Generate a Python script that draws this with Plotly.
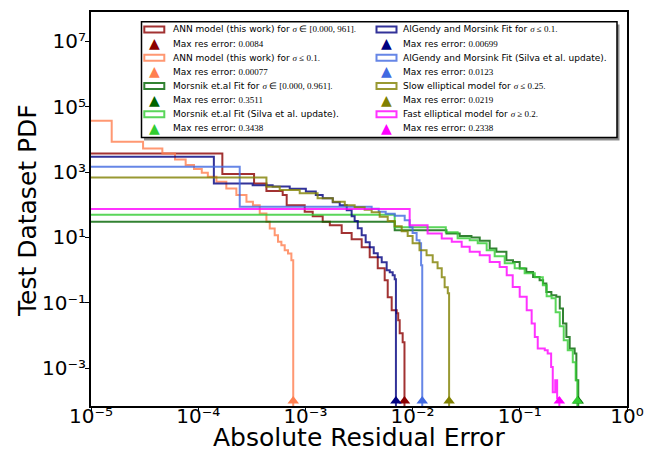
import plotly.graph_objects as go

# ---------------- data: step-histogram PDFs of absolute residual error ----------------
# each series: left bin edges, PDF value of each bin; the last bin closes at the max error
ann_all_edges = [1e-5, 1.68e-4, 3.32e-4, 4.33e-4, 6.14e-4, 6.69e-4, 9.85e-4, 1.17e-3, 1.45e-3,
                 1.69e-3, 2.18e-3, 2.70e-3, 3.35e-3, 3.98e-3, 4.73e-3, 5.49e-3, 5.86e-3,
                 6.38e-3, 7.11e-3, 7.34e-3, 7.58e-3, 8.08e-3]
ann_all_pdf = [3.71e3, 863, 448, 261, 197, 97.3, 60.7, 44.8, 30.0, 23.8, 13.6, 8.87, 5.05,
               2.50, 1.15, 0.494, 0.149, 0.0598, 0.0484, 0.0296, 0.0118, 0.00628]

ann_low_edges = [1e-5, 1.56e-5, 3.06e-5, 4.63e-5, 6.08e-5, 7.64e-5, 9.14e-5, 1.08e-4, 1.23e-4,
                 1.48e-4, 1.83e-4, 2.27e-4, 2.82e-4, 3.24e-4, 3.75e-4, 4.33e-4, 4.65e-4,
                 5.17e-4, 5.55e-4, 5.97e-4, 6.41e-4, 6.88e-4, 7.40e-4]
ann_low_pdf = [3.68e4, 8.39e3, 5.27e3, 3.71e3, 2.43e3, 1.63e3, 1.23e3, 946, 713, 501, 315,
               197, 123, 97.3, 54.2, 30.0, 18.8, 11.7, 7.35, 5.82, 4.09, 3.24, 2.02]

morsnik_edges = [1e-5, 6.81e-3, 2.07e-2, 2.75e-2, 3.54e-2, 4.23e-2, 5.24e-2, 6.05e-2, 7.50e-2,
                 8.64e-2, 9.98e-2, 0.115, 0.133, 0.153, 0.165, 0.177, 0.197, 0.219, 0.236,
                 0.253, 0.272, 0.292, 0.325, 0.337]
morsnik_pdf = [30.0, 16.7, 13.2, 11.0, 10.0, 7.87, 4.61, 3.63, 2.02, 1.79, 1.13, 0.887, 0.624,
               0.494, 0.392, 0.217, 0.172, 0.153, 0.0675, 0.0234, 0.00912, 0.00404, 0.00284,
               4.33e-4]

morsnik_silva_edges = [1e-5, 6.81e-3, 2.04e-2, 2.63e-2, 3.41e-2, 4.05e-2, 4.91e-2, 5.83e-2,
                       7.23e-2, 8.96e-2, 0.111, 0.138, 0.164, 0.178, 0.198, 0.216, 0.236,
                       0.257, 0.280, 0.312, 0.332]
morsnik_silva_pdf = [49.1, 20.7, 14.5, 9.53, 8.28, 6.70, 4.09, 2.68, 1.64, 1.15, 0.809, 0.611,
                     0.348, 0.160, 0.139, 0.052, 0.0194, 0.00723, 0.00358, 0.00154, 4.33e-4]

algendy_edges = [1e-5, 1.40e-4, 3.22e-4, 4.95e-4, 7.14e-4, 1.01e-3, 1.25e-3, 1.45e-3, 1.80e-3,
                 2.09e-3, 2.43e-3, 2.70e-3, 2.88e-3, 3.08e-3, 3.35e-3, 3.65e-3, 3.98e-3,
                 4.34e-3, 4.73e-3, 5.15e-3, 5.73e-3, 6.12e-3, 6.52e-3, 6.81e-3]
algendy_pdf = [2.92e3, 448, 397, 358, 310, 252, 197, 159, 120, 97.3, 68.4, 44.8, 31.6, 19.2,
               11.7, 7.18, 5.05, 3.31, 2.50, 1.76, 1.00, 0.869, 0.703, 0.531]

algendy_silva_edges = [1e-5, 2.44e-4, 4.15e-3, 4.83e-3, 5.61e-3, 6.81e-3, 8.44e-3, 9.39e-3,
                       1.00e-2, 1.09e-2, 1.16e-2, 1.20e-2]
algendy_silva_pdf = [1.44e3, 86.3, 76.0, 61.5, 53.5, 46.5, 33.8, 20.7, 13.6, 8.28, 6.70, 1.42]

slow_edges = [1e-5, 4.33e-4, 5.76e-4, 8.85e-4, 1.30e-3, 1.80e-3, 2.33e-3, 2.88e-3, 3.57e-3,
              4.15e-3, 4.93e-3, 5.86e-3, 6.81e-3, 7.91e-3, 9.00e-3, 1.00e-2, 1.16e-2, 1.35e-2,
              1.54e-2, 1.71e-2, 1.87e-2, 1.99e-2, 2.13e-2]
slow_pdf = [684, 352, 280, 226, 159, 124, 97.3, 84.5, 70.8, 59.4, 43.3, 31.6, 22.2, 15.6, 11.0,
            6.70, 4.09, 2.88, 1.76, 1.15, 0.611, 0.302, 0.198]

fast_edges = [1e-5, 9.39e-3, 1.38e-2, 1.87e-2, 2.32e-2, 2.87e-2, 3.41e-2, 4.23e-2, 5.24e-2,
              6.49e-2, 7.55e-2, 8.59e-2, 9.98e-2, 0.116, 0.129, 0.138, 0.147, 0.171, 0.182,
              0.196, 0.203, 0.214, 0.223]
fast_pdf = [73.5, 23.8, 13.2, 9.33, 7.35, 5.16, 3.63, 2.88, 1.79, 1.26, 0.703, 0.308, 0.153,
            0.0598, 0.0234, 0.00912, 0.00404, 0.00358, 0.00284, 0.0011, 1.86e-4, 4.33e-4,
            1.22e-4]

# maximum absolute residual error of each model (triangles on the x axis)
max_res_error = [0.0084, 0.00077, 0.3511, 0.3438, 0.00699, 0.0123, 0.0219, 0.2338]

series_edges = [ann_all_edges, ann_low_edges, morsnik_edges, morsnik_silva_edges,
                algendy_edges, algendy_silva_edges, slow_edges, fast_edges]
series_pdf = [ann_all_pdf, ann_low_pdf, morsnik_pdf, morsnik_silva_pdf,
              algendy_pdf, algendy_silva_pdf, slow_pdf, fast_pdf]

M = '<span style="font-family:Liberation Serif;font-size:9px">'
series_labels = [
    "ANN model (this work) for " + M + "<i>σ</i> ∈ [0.000, 961].</span>",
    "ANN model (this work) for " + M + "<i>σ</i> ≤ 0.1.</span>",
    "Morsnik et.al Fit for " + M + "<i>σ</i> ∈ [0.000, 0.961].</span>",
    "Morsnik et.al Fit (Silva et al. update).",
    "AlGendy and Morsink Fit for " + M + "<i>σ</i> ≤ 0.1.</span>",
    "AlGendy and Morsink Fit (Silva et al. update).",
    "Slow elliptical model for " + M + "<i>σ</i> ≤ 0.25.</span>",
    "Fast elliptical model for " + M + "<i>σ</i> ≥ 0.2.</span>",
]
colors = ["darkred", "coral", "darkgreen", "limegreen", "navy", "royalblue", "olive", "magenta"]

x_tick_vals = [1e-5, 1e-4, 1e-3, 1e-2, 1e-1, 1e0]
x_tick_text = ["10⁻⁵", "10⁻⁴", "10⁻³", "10⁻²", "10⁻¹", "10⁰"]
y_tick_vals = [1e-3, 1e-1, 1e1, 1e3, 1e5, 1e7]
y_tick_text = ["10⁻³", "10⁻¹", "10¹", "10³", "10⁵", "10⁷"]
x_title = "Absolute Residual Error"
y_title = "Test Dataset PDF"

PDF_FLOOR = 1e-7       # empty bin beyond the last edge (drawn below the axis)
MARKER_LEVEL = 1e-4    # height at which the max-error triangles sit

fig = go.Figure()

for edges, pdf, err, col in zip(series_edges, series_pdf, max_res_error, colors):
    fig.add_trace(go.Scatter(
        x=edges + [err], y=pdf + [PDF_FLOOR], mode="lines", line_shape="hv",
        line=dict(color=col, width=2), opacity=0.8, showlegend=False, hoverinfo="skip"))

for err, col in zip(max_res_error, colors):
    fig.add_trace(go.Scatter(
        x=[err], y=[MARKER_LEVEL], mode="markers", cliponaxis=False,
        marker=dict(symbol="triangle-up", size=10, color=col), showlegend=False))

# ---------------- legend box (two columns, with drop shadow) ----------------
L, R, T, B = 91.0, 627.0, 12.0, 406.0   # plot area in pixels


def px(x):
    return (x - L) / (R - L)


def py(y):
    return (B - y) / (B - T)


shapes = [
    dict(type="rect", xref="paper", yref="paper", x0=px(144), x1=px(619.5), y0=py(140.5), y1=py(24.5),
         fillcolor="rgba(0,0,0,0.45)", line=dict(width=0), layer="above"),
    dict(type="rect", xref="paper", yref="paper", x0=px(141.5), x1=px(617), y0=py(137.5), y1=py(21.7),
         fillcolor="white", line=dict(color="black", width=1.5), layer="above"),
]
annotations = []
row0, row_step = 29.4, 14.15
col_patch = [154.3, 386.5]
col_text = [170.5, 401.0]
for i, (lab, err, col) in enumerate(zip(series_labels, max_res_error, colors)):
    c, r = divmod(i, 4)
    y_patch = row0 + 2 * r * row_step
    y_tri = y_patch + row_step
    shapes.append(dict(type="rect", xref="paper", yref="paper",
                       x0=px(col_patch[c] - 10), x1=px(col_patch[c] + 10),
                       y0=py(y_patch + 3), y1=py(y_patch - 3),
                       fillcolor="white", line=dict(color=col, width=2), opacity=0.8, layer="above"))
    annotations.append(dict(xref="paper", yref="paper", x=px(col_text[c]), y=py(y_patch),
                            xanchor="left", yanchor="middle", showarrow=False, text=lab,
                            font=dict(family="DejaVu Sans", size=9, color="black")))
    annotations.append(dict(xref="paper", yref="paper", x=px(col_patch[c]), y=py(y_tri - 0.5),
                            xanchor="center", yanchor="middle", showarrow=False, text="▲",
                            font=dict(family="DejaVu Sans", size=14, color=col)))
    annotations.append(dict(xref="paper", yref="paper", x=px(col_text[c]), y=py(y_tri),
                            xanchor="left", yanchor="middle", showarrow=False,
                            text="Max res error: " + M + f"{err}</span>",
                            font=dict(family="DejaVu Sans", size=9, color="black")))

# axis titles
title_font = dict(family="DejaVu Sans", size=25, color="black")
annotations.append(dict(xref="paper", yref="paper", x=0.5, y=py(437), xanchor="center",
                        yanchor="middle", showarrow=False, text=x_title, font=title_font))
annotations.append(dict(xref="paper", yref="paper", x=px(27), y=py(211), xanchor="center",
                        yanchor="middle", showarrow=False, text=y_title, textangle=-90,
                        font=title_font))

axis_common = dict(showgrid=False, zeroline=False, showline=True, mirror=True, automargin=False,
                   linecolor="black", linewidth=2, ticks="outside", ticklen=4, tickwidth=1.2,
                   tickcolor="black", tickfont=dict(family="DejaVu Sans", size=20, color="black"))

fig.update_layout(
    width=657, height=453, margin=dict(l=91, r=30, t=12, b=47),
    paper_bgcolor="white", plot_bgcolor="white", showlegend=False,
    shapes=shapes, annotations=annotations,
    xaxis=dict(type="log", range=[-5, 0], tickvals=x_tick_vals, ticktext=x_tick_text,
               ticklabelstandoff=-13, **axis_common),
    yaxis=dict(type="log", range=[-4.15, 7.89], tickvals=y_tick_vals, ticktext=y_tick_text,
               ticklabelstandoff=-5, **axis_common),
)

fig.write_html("out.html")
